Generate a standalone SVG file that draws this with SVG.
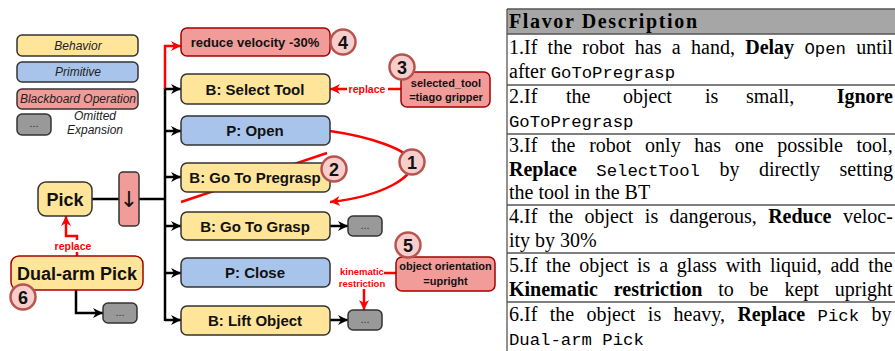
<svg xmlns="http://www.w3.org/2000/svg" width="895" height="351" viewBox="0 0 895 351">
<style>
.beh{fill:#ffe599;stroke:#333;stroke-width:1.5}
.prim{fill:#a9c4eb;stroke:#333;stroke-width:1.5}
.bb{fill:#f19c99;stroke:#a50000;stroke-width:1.5}
.bbl{fill:#f19c99;stroke:#333;stroke-width:1.5}
.gray{fill:#999;stroke:#333;stroke-width:1.5}
.num{fill:#f8cecc;stroke:#b85450;stroke-width:2.5}
.lbl{font-family:"Liberation Sans",Arial,sans-serif;font-weight:bold;font-size:15px;text-anchor:middle;fill:#111}
.leg{font-family:"Liberation Sans",Arial,sans-serif;font-style:italic;font-size:12px;text-anchor:middle;fill:#222}
.small{font-family:"Liberation Sans",Arial,sans-serif;font-weight:bold;font-size:11px;text-anchor:middle;fill:#111}
.red{font-family:"Liberation Sans",Arial,sans-serif;font-weight:bold;font-size:10.5px;text-anchor:middle;fill:#ff0000}
.nt{font-family:"Liberation Sans",Arial,sans-serif;font-weight:bold;font-size:18px;text-anchor:middle;fill:#111}
.dots{font-family:"Liberation Sans",Arial,sans-serif;font-size:11px;text-anchor:middle;fill:#333}
.k{stroke:#000;stroke-width:2.5;fill:none}
.r{stroke:#ff0000;stroke-width:2.5;fill:none}
.t{font-family:"Liberation Serif","Times New Roman",serif;font-size:20px;fill:#000}
.b{font-weight:bold}
.m{font-family:"Liberation Mono","Courier New",monospace;font-size:17.3px}
.tl{stroke:#555;stroke-width:1.3}
</style>
<defs>
<marker id="ak" markerUnits="userSpaceOnUse" markerWidth="12" markerHeight="10" refX="10" refY="5" orient="auto">
<path d="M0,0 L10,5 L0,10 L3,5 z" fill="#000"/>
</marker>
<marker id="ar" markerUnits="userSpaceOnUse" markerWidth="12" markerHeight="10" refX="10" refY="5" orient="auto">
<path d="M0,0 L10,5 L0,10 L3,5 z" fill="#ff0000"/>
</marker>
</defs>

<g id="legend">
<rect class="beh" x="17" y="35" width="121" height="21" rx="5"/>
<text class="leg" x="78" y="49.5">Behavior</text>
<rect class="prim" x="17" y="62" width="121" height="20" rx="5"/>
<text class="leg" x="78" y="76">Primitive</text>
<rect class="bbl" x="17" y="89" width="121" height="20" rx="5"/>
<text class="leg" x="78" y="103">Blackboard Operation</text>
<rect class="gray" x="17" y="114" width="34" height="21" rx="5"/>
<text class="dots" x="34" y="127">...</text>
<text class="leg" x="95" y="120">Omitted</text>
<text class="leg" x="95" y="134">Expansion</text>
</g>

<g id="connectors">
<line class="k" x1="92" y1="199" x2="119" y2="199"/>
<line class="k" x1="139" y1="199" x2="165" y2="199"/>
<line class="k" x1="165" y1="88" x2="165" y2="321"/>
<path class="r" d="M165,89 V46 H181" marker-end="url(#ar)"/>
<path class="k" d="M165,89 H181" marker-end="url(#ak)"/>
<path class="k" d="M165,131 H181" marker-end="url(#ak)"/>
<path class="k" d="M165,177 H181" marker-end="url(#ak)"/>
<path class="k" d="M165,226 H181" marker-end="url(#ak)"/>
<path class="k" d="M165,273 H181" marker-end="url(#ak)"/>
<path class="k" d="M165,320 H181" marker-end="url(#ak)"/>
<path class="k" d="M330,226 H348" marker-end="url(#ak)"/>
<path class="k" d="M330,320 H348" marker-end="url(#ak)"/>
<path class="k" d="M76,290 V313 H103" marker-end="url(#ak)"/>
<path class="r" d="M401,89 H330" marker-end="url(#ar)"/>
<rect x="347" y="82" width="41" height="14" fill="#fff"/>
<text class="red" x="367" y="93">replace</text>
<path class="r" d="M77,256 V236 H66 V216" marker-end="url(#ar)"/>
<rect x="54" y="240" width="40" height="12" fill="#fff"/>
<text class="red" x="73" y="250">replace</text>
<line class="r" x1="384" y1="273" x2="397" y2="273"/>
<path class="r" d="M364,289 V310" marker-end="url(#ar)"/>
<text class="red" x="362" y="275" style="font-size:9.5px">kinematic</text>
<text class="red" x="362" y="287" style="font-size:9.5px">restriction</text>
<path class="r" d="M330,131 C372,137 408,150 412,162 C415,176 385,196 330,202" marker-end="url(#ar)"/>
<line class="r" x1="181" y1="202" x2="327" y2="153"/>
</g>

<g id="pick">
<rect class="beh" x="38" y="182" width="54" height="34" rx="8"/>
<text class="nt" x="65" y="205.5">Pick</text>
</g>
<g id="sequence">
<rect class="bbl" x="119" y="172" width="20" height="54" rx="4"/>
<text x="129" y="207" style="font-family:'DejaVu Sans',sans-serif;font-size:22px;text-anchor:middle;fill:#111">↓</text>
</g>
<g id="dualarm">
<rect x="11" y="256" width="132" height="34" rx="8" fill="#ffe599" stroke="#a50000" stroke-width="1.5"/>
<text class="nt" x="77" y="279.5">Dual-arm Pick</text>
</g>
<g id="dual-omitted">
<rect class="gray" x="103" y="303" width="34" height="20" rx="5"/>
<text class="dots" x="120" y="316">...</text>
</g>
<g id="reduce">
<rect class="bb" x="181" y="28" width="149" height="28" rx="6"/>
<text class="lbl" x="255" y="46.5" style="font-size:13px">reduce velocity -30%</text>
</g>
<g id="selecttool">
<rect class="beh" x="181" y="74" width="149" height="30" rx="6"/>
<text class="lbl" x="255" y="94.5">B: Select Tool</text>
</g>
<g id="open">
<rect class="prim" x="181" y="116" width="149" height="29" rx="6"/>
<text class="lbl" x="255" y="136">P: Open</text>
</g>
<g id="pregrasp">
<rect class="beh" x="181" y="163" width="149" height="29" rx="6"/>
<text class="lbl" x="255" y="183">B: Go To Pregrasp</text>
</g>
<g id="grasp">
<rect class="beh" x="181" y="212" width="149" height="28" rx="6"/>
<text class="lbl" x="255" y="231.5">B: Go To Grasp</text>
</g>
<g id="grasp-omitted">
<rect class="gray" x="348" y="216" width="34" height="20" rx="5"/>
<text class="dots" x="365" y="229">...</text>
</g>
<g id="close">
<rect class="prim" x="181" y="258" width="149" height="29" rx="6"/>
<text class="lbl" x="255" y="278">P: Close</text>
</g>
<g id="lift">
<rect class="beh" x="181" y="306" width="149" height="29" rx="6"/>
<text class="lbl" x="255" y="326">B: Lift Object</text>
</g>
<g id="lift-omitted">
<rect class="gray" x="348" y="310" width="34" height="20" rx="5"/>
<text class="dots" x="365" y="323">...</text>
</g>
<g id="selectedtool">
<rect class="bb" x="401" y="72" width="89" height="35" rx="6"/>
<text class="small" x="446" y="87">selected_tool</text>
<text class="small" x="446" y="101">=tiago gripper</text>
</g>
<g id="orientation">
<rect class="bb" x="396" y="257" width="99" height="34" rx="6"/>
<text class="small" x="445.5" y="270">object orientation</text>
<text class="small" x="445.5" y="285">=upright</text>
</g>
<g id="n1"><circle class="num" cx="412" cy="162" r="12.5"/><text class="nt" x="412" y="168.5">1</text></g>
<g id="n2"><circle class="num" cx="334" cy="169" r="12.5"/><text class="nt" x="334" y="175.5">2</text></g>
<g id="n3"><circle class="num" cx="402" cy="67" r="12.5"/><text class="nt" x="402" y="73.5">3</text></g>
<g id="n4"><circle class="num" cx="343" cy="42" r="12.5"/><text class="nt" x="343" y="48.5">4</text></g>
<g id="n5"><circle class="num" cx="408" cy="245" r="12.5"/><text class="nt" x="408" y="251.5">5</text></g>
<g id="n6"><circle class="num" cx="23" cy="297" r="12.5"/><text class="nt" x="23" y="303.5">6</text></g>

<g id="table">
<rect x="507" y="9" width="390" height="25" fill="#a6a6a6"/>
<line class="tl" x1="507" y1="9" x2="895" y2="9"/>
<line class="tl" x1="507" y1="34" x2="895" y2="34"/>
<line class="tl" x1="507" y1="85" x2="895" y2="85"/>
<line class="tl" x1="507" y1="134" x2="895" y2="134"/>
<line class="tl" x1="507" y1="205" x2="895" y2="205"/>
<line class="tl" x1="507" y1="253" x2="895" y2="253"/>
<line class="tl" x1="507" y1="302" x2="895" y2="302"/>
<line class="tl" x1="507" y1="9" x2="507" y2="351"/>
<text class="t b" x="509" y="28" textLength="188" lengthAdjust="spacing">Flavor Description</text>
<text class="t" x="509" y="54" style="word-spacing:5.3px">1.If the robot has a hand, <tspan class="b">Delay</tspan> <tspan class="m">Open</tspan> until</text>
<text class="t" x="509" y="78">after <tspan class="m">GoToPregrasp</tspan></text>
<text class="t" x="509" y="103">2.If</text>
<text class="t" x="566" y="103">the</text>
<text class="t" x="623" y="103">object</text>
<text class="t" x="705" y="103">is</text>
<text class="t" x="746" y="103">small,</text>
<text class="t b" x="893" y="103" text-anchor="end">Ignore</text>
<text class="t" x="509" y="127"><tspan class="m">GoToPregrasp</tspan></text>
<text class="t" x="509" y="152" style="word-spacing:8.7px">3.If the robot only has one possible tool,</text>
<text class="t" x="509" y="176" style="word-spacing:14.5px"><tspan class="b">Replace</tspan> <tspan class="m">SelectTool</tspan> by directly setting</text>
<text class="t" x="509" y="199">the tool in the BT</text>
<text class="t" x="509" y="223" style="word-spacing:6.4px">4.If the object is dangerous, <tspan class="b">Reduce</tspan> veloc-</text>
<text class="t" x="509" y="247">ity by 30%</text>
<text class="t" x="509" y="272" style="word-spacing:3.8px">5.If the object is a glass with liquid, add the</text>
<text class="t" x="509" y="296" style="word-spacing:10.9px"><tspan class="b">Kinematic restriction</tspan> to be kept upright</text>
<text class="t" x="509" y="321" style="word-spacing:7.4px">6.If the object is heavy, <tspan class="b">Replace</tspan> <tspan class="m">Pick</tspan> by</text>
<text class="t" x="509" y="345"><tspan class="m">Dual-arm Pick</tspan></text>
</g>
</svg>
